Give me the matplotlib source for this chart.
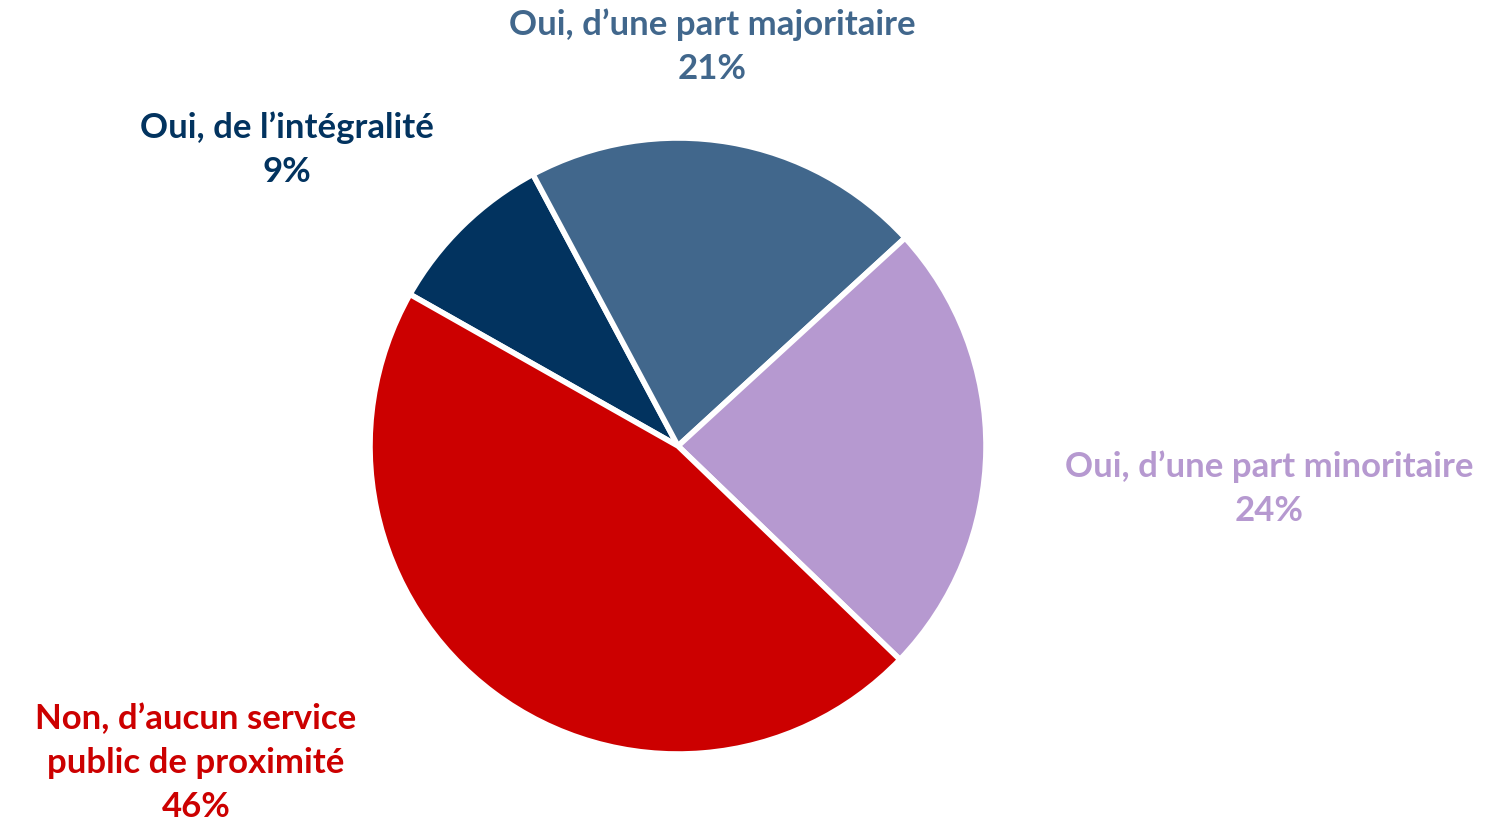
import matplotlib
matplotlib.use('agg')
import matplotlib.pyplot as plt

labels = ["Oui, de l\u2019int\u00e9gralit\u00e9",
          "Oui, d\u2019une part majoritaire",
          "Oui, d\u2019une part minoritaire",
          "Non, d\u2019aucun service\npublic de proximit\u00e9"]
values = [9, 21, 24, 46]
colors = ["#02335F", "#41678C", "#B699D0", "#CC0000"]

# label centres in pixels from the top-left corner
label_pos = [(287, 150), (712, 47), (1269, 489), (196, 763)]

W, H = 1490, 832
fig = plt.figure(figsize=(W / 100, H / 100), dpi=100)
ax = fig.add_axes([0, 0, 1, 1])

ax.pie(values, colors=colors, startangle=150.5, counterclock=False,
       radius=308, center=(678, H - 446),
       wedgeprops=dict(edgecolor='white', linewidth=4))
ax.set_xlim(0, W)
ax.set_ylim(0, H)
ax.set_aspect('equal')
ax.axis('off')

for lab, v, c, (x, y) in zip(labels, values, colors, label_pos):
    ax.text(x, H - y, f"{lab}\n{v}%", ha='center', va='center', color=c,
            fontsize=25, fontweight='bold', family='Lato', linespacing=1.45)

fig.savefig("out.png", dpi=100)
